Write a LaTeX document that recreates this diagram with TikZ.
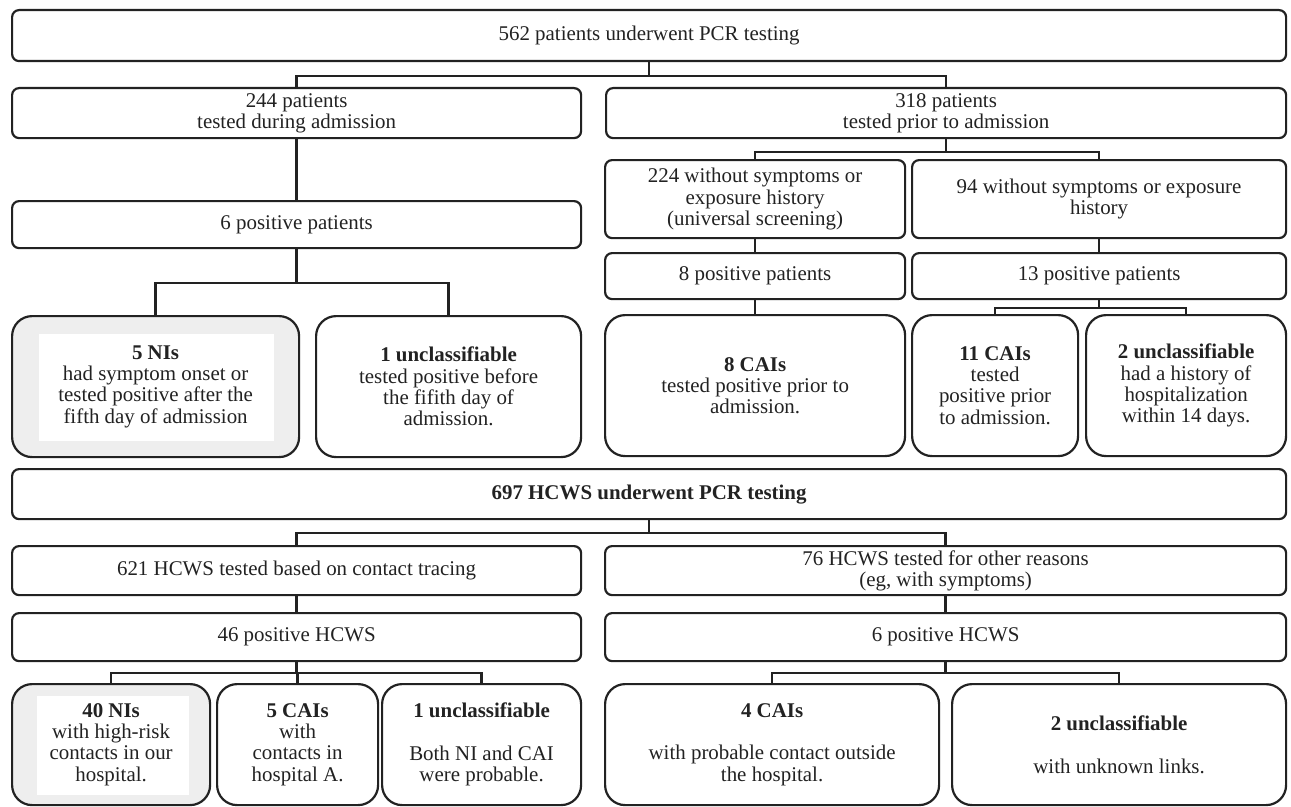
\documentclass[tikz,border=0pt]{standalone}
\usepackage{fontspec}
\setmainfont{Liberation Serif}
\definecolor{ink}{HTML}{222222}
\definecolor{shade}{HTML}{EEEEEE}
\newcommand\mybox[7]{\node[#1, minimum width={(#5-#3)*1bp}, minimum height={(#6-#4)*1bp}] (#2) at (#3,#4) {#7};}
\tikzset{
  txt/.style={align=center, inner sep=0pt, font=\fontsize{21}{21.3}\selectfont, text=ink},
  box/.style={txt, draw=ink, line width=2.2bp, rounded corners=7bp, anchor=north west},
  bigbox/.style={box, rounded corners=20bp},
  link/.style={draw=ink, line width=2.4bp},
}
\begin{document}
\begin{tikzpicture}[x=1bp, y=-1bp]
\useasboundingbox (0,0) rectangle (1291,807);
% patients
\mybox{box}{top}{11}{9}{1285}{60}{562 patients underwent PCR testing}
\mybox{box}{pa}{11}{87}{580}{137}{244 patients\\tested during admission}
\mybox{box}{pb}{605}{87}{1285}{137}{318 patients\\tested prior to admission}
\mybox{box}{posa}{11}{200}{580}{247}{6 positive patients}
\mybox{bigbox, fill=shade}{nia}{11}{315}{298}{456}{}
\fill[white] (39,334) rectangle (274,441);
\node[txt] (niat) at (nia.center) {\textbf{5 NIs}\\had symptom onset or\\tested positive after the\\fifth day of admission};
\mybox{bigbox}{unca}{315}{315}{580}{456}{\textbf{1 unclassifiable}\\tested positive before\\the fifith day of\\admission.}
\mybox{box}{wa}{604}{159}{904}{237}{224 without symptoms or\\exposure history\\(universal screening)}
\mybox{box}{wb}{911}{159}{1285}{237}{94 without symptoms or exposure\\history}
\mybox{box}{posb}{604}{252}{904}{298}{8 positive patients}
\mybox{box}{posc}{911}{252}{1285}{298}{13 positive patients}
\mybox{bigbox}{caia}{604}{314}{904}{455}{\textbf{8 CAIs}\\tested positive prior to\\admission.}
\mybox{bigbox}{caib}{911}{314}{1077}{455}{\textbf{11 CAIs}\\tested\\positive prior\\to admission.}
\mybox{bigbox}{uncb}{1085}{314}{1285}{455}{\textbf{2 unclassifiable}\\had a history of\\hospitalization\\within 14 days.}
% HCWS
\mybox{box}{htop}{11}{468}{1285}{518}{\textbf{697 HCWS underwent PCR testing}}
\mybox{box}{ha}{11}{545}{580}{594}{621 HCWS tested based on contact tracing}
\mybox{box}{hb}{604}{545}{1285}{594}{76 HCWS tested for other reasons\\(eg, with symptoms)}
\mybox{box}{hposa}{11}{612}{580}{660}{46 positive HCWS}
\mybox{box}{hposb}{604}{612}{1285}{660}{6 positive HCWS}
\mybox{bigbox, fill=shade}{hni}{11}{683}{209}{804}{}
\fill[white] (37,696) rectangle (189,795);
\node[txt] (hnit) at (hni.center) {\textbf{40 NIs}\\with high-risk\\contacts in our\\hospital.};
\mybox{bigbox}{hcaia}{216}{683}{377}{804}{\textbf{5 CAIs}\\with\\contacts in\\hospital A.}
\mybox{bigbox}{hunca}{381}{683}{580}{804}{\textbf{1 unclassifiable}\\[21.3bp]Both NI and CAI\\were probable.}
\mybox{bigbox}{hcaib}{604}{683}{938}{804}{\textbf{4 CAIs}\\[21.3bp]with probable contact outside\\the hospital.}
\mybox{bigbox}{huncb}{951}{683}{1285}{804}{\textbf{2 unclassifiable}\\[21.3bp]with unknown links.}
% connectors
\draw[link] (top.south) -- ++(0,14) coordinate (j1) -| (pa.north);
\draw[link] (j1) -| (pb.north);
\draw[link] (pa.south) -- (posa.north);
\draw[link] (posa.south) -- ++(0,34) coordinate (j2) -| (nia.north);
\draw[link] (j2) -| (unca.north);
\draw[link] (pb.south) -- ++(0,13) coordinate (j3) -| (wa.north);
\draw[link] (j3) -| (wb.north);
\draw[link] (wa.south) -- (posb.north);
\draw[link] (wb.south) -- (posc.north);
\draw[link] (posb.south) -- (caia.north);
\draw[link] (posc.south) -- ++(0,8) coordinate (j4) -| (caib.north);
\draw[link] (j4) -| (uncb.north);
\draw[link] (htop.south) -- ++(0,13) coordinate (j5) -| (ha.north);
\draw[link] (j5) -| (hb.north);
\draw[link] (ha.south) -- (hposa.north);
\draw[link] (hb.south) -- (hposb.north);
\draw[link] (hposa.south) -- ++(0,11) coordinate (j6) -| (hni.north);
\draw[link] (j6) -| (hcaia.north);
\draw[link] (j6) -| (hunca.north);
\draw[link] (hposb.south) -- ++(0,11) coordinate (j7) -| (hcaib.north);
\draw[link] (j7) -| (huncb.north);
\end{tikzpicture}
\end{document}
